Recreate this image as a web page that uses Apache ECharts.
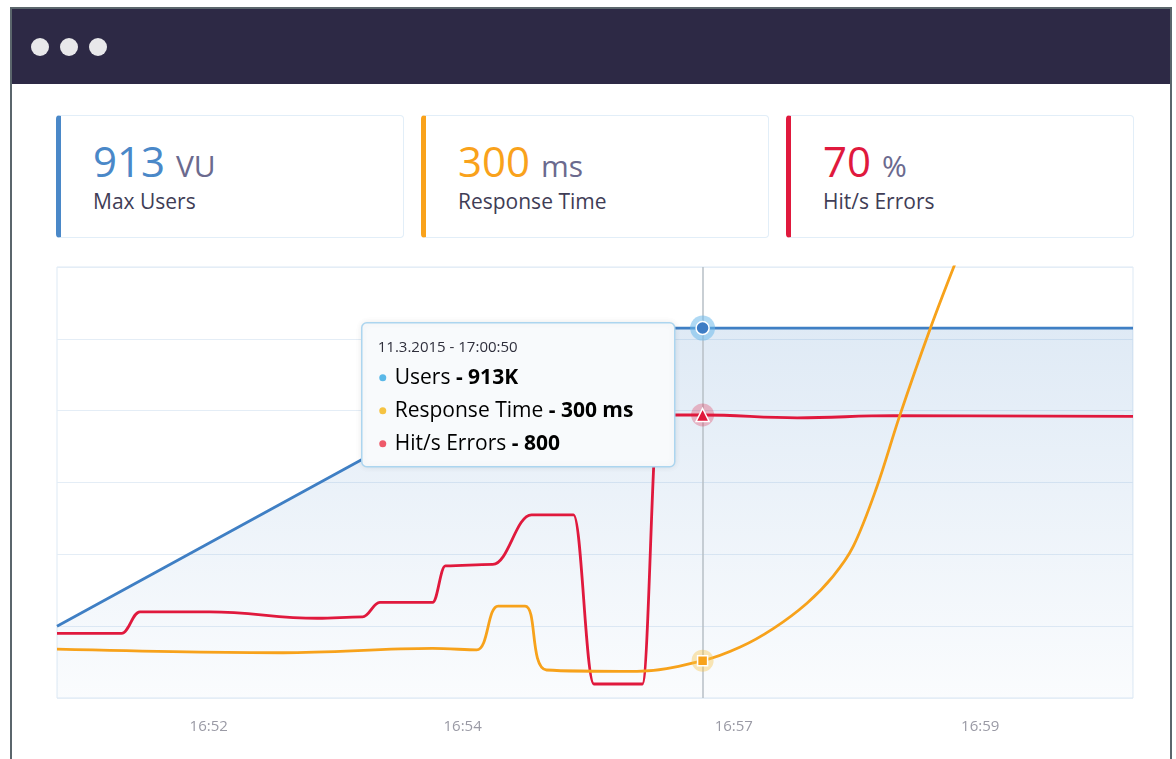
<!DOCTYPE html>
<html>
<head>
<meta charset="utf-8">
<title>Load test dashboard</title>
<script src="https://cdn.jsdelivr.net/npm/echarts@6/dist/echarts.min.js"></script>
<style>
  html, body { margin: 0; padding: 0; background: #fff; width: 1176px; height: 759px; overflow: hidden; font-family: "Open Sans", sans-serif; }
  .frame { position: absolute; left: 10px; top: 7px; width: 1158px; height: 780px; border: 2px solid #5b666c; border-bottom: none; background: #fff; }
  .bar { position: absolute; left: 0; top: 0; width: 100%; height: 75px; background: #2d2945; }
  .dot { position: absolute; top: 29px; width: 18px; height: 18px; border-radius: 50%; background: #e8e8ea; }
  .card { position: absolute; top: 115px; width: 342px; height: 121px; border: 1px solid #e2eef8; border-left: 5px solid; border-radius: 4px; background: #fff; }
  .num { position: absolute; left: 32px; top: 24px; font-size: 42px; line-height: 42px; white-space: nowrap; }
  .unit { font-size: 30px; color: #6b6a8e; }
  .lbl { position: absolute; left: 32px; top: 75px; font-size: 21px; line-height: 21px; color: #3f3d56; white-space: nowrap; }
  #chart { position: absolute; left: 12px; top: 250px; width: 1156px; height: 509px; }
</style>
</head>
<body>
<div class="frame">
  <div class="bar">
    <div class="dot" style="left:19px"></div>
    <div class="dot" style="left:48px"></div>
    <div class="dot" style="left:77px"></div>
  </div>
</div>

<div class="card" style="left:56px;border-left-color:#4a88c8">
  <div class="num" style="color:#4a88c8">913 <span class="unit">VU</span></div>
  <div class="lbl">Max Users</div>
</div>
<div class="card" style="left:421px;border-left-color:#f9a21b">
  <div class="num" style="color:#f9a21b">300 <span class="unit">ms</span></div>
  <div class="lbl">Response Time</div>
</div>
<div class="card" style="left:786px;border-left-color:#e0193d">
  <div class="num" style="color:#e0193d">70 <span class="unit">%</span></div>
  <div class="lbl">Hit/s Errors</div>
</div>

<div id="chart"></div>

<script>
// x = position along the run (0..100), y = unitless height (0..600)
const xLabelAt = [14.1, 37.7, 62.9, 85.8];
const xLabelText = ['16:52', '16:54', '16:57', '16:59'];

const users = [[0, 100], [50.7, 515], [60, 515], [100, 515]];

const errors = [
  [0, 90], [6.0, 90], [7.7, 120], [14.2, 120], [24.2, 111], [28.4, 113],
  [30.0, 133], [34.9, 133], [36.1, 184], [40.5, 186], [44.1, 255], [48.0, 255],
  [49.9, 19.5], [54.4, 19.5], [55.9, 394], [60, 394], [68.8, 390], [77.7, 393], [100, 392]
];

const responseTime = [
  [0, 68], [21.0, 63], [34.9, 69], [39.0, 67], [41.0, 128], [43.5, 128],
  [45.5, 39], [53.9, 37], [60, 52], [63.5, 71], [66.6, 97], [69.7, 132],
  [72.1, 169], [74.0, 211], [76.2, 294], [78.3, 392], [81.1, 512], [83.6, 610]
];

// hovered moment shown in the tooltip
const hoverT = 60;
const tipTime = '11.3.2015 - 17:00:50';
const tipNames = ['Users', 'Response Time', 'Hit/s Errors'];
const tipValues = ['913K', '300 ms', '800'];
const tipDots = ['#5ab8e8', '#f5c342', '#ee5a6a'];

const at = (arr) => arr.find(p => p[0] === hoverT);

const marker = (arr, shape, size, color, halo, haloSize) => ({
  silent: true,
  animation: false,
  label: { show: false },
  data: [
    { coord: at(arr), symbol: 'circle', symbolSize: haloSize, itemStyle: { color: halo } },
    { coord: at(arr), symbol: shape, symbolSize: size, itemStyle: { color: color, borderColor: '#fff', borderWidth: 1.5 } }
  ]
});

const tipRows = tipNames.map((n, i) => ([
  { type: 'circle', z: 101, shape: { cx: 21, cy: 55 + i * 33, r: 3.5 }, style: { fill: tipDots[i] } },
  {
    type: 'text', z: 101, x: 33, y: 55 + i * 33,
    style: {
      text: '{n|' + n + ' }{b|- ' + tipValues[i] + '}',
      verticalAlign: 'middle',
      rich: {
        n: { fontFamily: 'Open Sans', fontSize: 21, color: '#3a3a48' },
        b: { fontFamily: 'Open Sans', fontSize: 21, fontWeight: 'bold', color: '#2a2a35' }
      }
    }
  }
])).flat();

var myChart = echarts.init(document.getElementById('chart'));
myChart.setOption({
  animation: false,
  textStyle: { fontFamily: 'Open Sans' },
  grid: { left: 45, top: 17, width: 1076, height: 431, show: true, borderColor: '#dde9f4', borderWidth: 1, backgroundColor: '#fff' },
  xAxis: {
    type: 'value', min: 0, max: 100,
    axisLine: { show: false },
    axisTick: { show: false },
    splitLine: { show: false },
    axisLabel: {
      customValues: xLabelAt,
      formatter: (v) => xLabelText[xLabelAt.indexOf(v)] || '',
      color: '#9a9aa5', fontSize: 15, margin: 21
    }
  },
  yAxis: {
    type: 'value', min: 0, max: 600, interval: 100,
    axisLabel: { show: false },
    axisLine: { show: false },
    axisTick: { show: false },
    splitLine: { lineStyle: { color: '#e4edf6', width: 1 } }
  },
  series: [
    {
      name: 'Users', type: 'line', data: users, showSymbol: false,
      lineStyle: { color: '#3f7fc4', width: 2.8 },
      areaStyle: {
        color: new echarts.graphic.LinearGradient(0, 0, 0, 1, [
          { offset: 0, color: 'rgba(74,136,200,0.25)' },
          { offset: 1, color: 'rgba(74,136,200,0.04)' }
        ])
      },
      markLine: {
        silent: true, animation: false, symbol: ['none', 'none'],
        label: { show: false },
        lineStyle: { color: '#b7bfc6', width: 1.5, type: 'solid' },
        data: [{ xAxis: hoverT }]
      },
      markPoint: marker(users, 'circle', 13, '#3d7cc4', 'rgba(110,185,235,0.55)', 25)
    },
    {
      name: 'Hit/s Errors', type: 'line', data: errors, showSymbol: false,
      smooth: 0.4, smoothMonotone: 'x',
      lineStyle: { color: '#e0193d', width: 2.8 },
      markPoint: marker(errors, 'triangle', 13, '#e0193d', 'rgba(224,25,61,0.28)', 23)
    },
    {
      name: 'Response Time', type: 'line', data: responseTime, showSymbol: false,
      smooth: 0.35,
      lineStyle: { color: '#f7a21b', width: 2.8 },
      markPoint: marker(responseTime, 'rect', 10, '#f7a21b', 'rgba(247,195,70,0.4)', 22)
    }
  ],
  graphic: [{
    type: 'group', left: 349, top: 72, z: 100,
    children: [
      {
        type: 'rect', z: 100, shape: { x: 0, y: 0, width: 313, height: 144, r: 5 },
        style: { fill: '#f8fafc', stroke: '#acd5ef', lineWidth: 1.5, shadowBlur: 6, shadowColor: 'rgba(0,0,0,0.08)' }
      },
      {
        type: 'text', z: 101, x: 16, y: 25,
        style: { text: tipTime, fontFamily: 'Open Sans', fontSize: 15, fill: '#2f2f3c', verticalAlign: 'middle' }
      }
    ].concat(tipRows)
  }]
});
window.onresize = function () {
  myChart.resize();
};
</script>
</body>
</html>
